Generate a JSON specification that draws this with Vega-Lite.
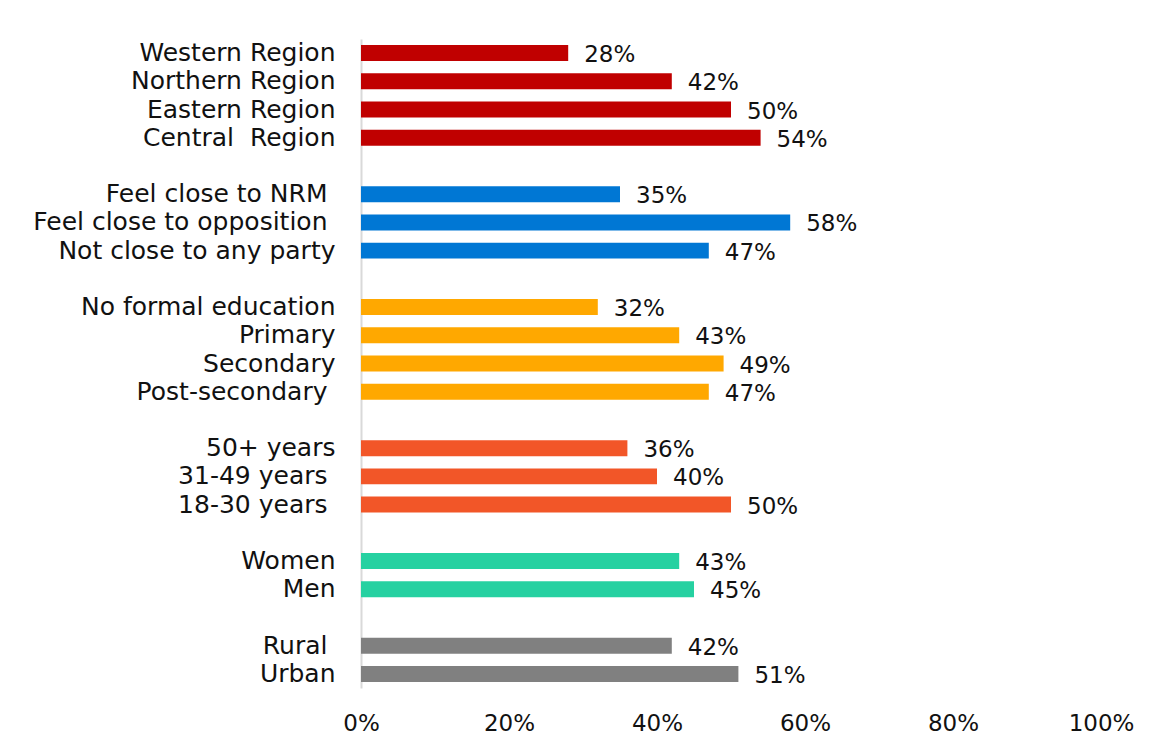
{
  "$schema": "https://vega.github.io/schema/vega-lite/v6.json",
  "autosize": "none",
  "padding": {"left": 361, "top": 39, "right": 53, "bottom": 59},
  "width": 740,
  "height": 649,
  "background": "white",
  "config": {"view": {"stroke": null}, "font": "DejaVu Sans"},
  "data": {"values": [
    {"label": "Western Region", "group": "Region", "value": 0.28},
    {"label": "Northern Region", "group": "Region", "value": 0.42},
    {"label": "Eastern Region", "group": "Region", "value": 0.50},
    {"label": "Central\u00a0 Region", "group": "Region", "value": 0.54},
    {"label": "Feel close to NRM", "group": "Party", "value": 0.35},
    {"label": "Feel close to opposition", "group": "Party", "value": 0.58},
    {"label": "Not close to any party", "group": "Party", "value": 0.47},
    {"label": "No formal education", "group": "Education", "value": 0.32},
    {"label": "Primary", "group": "Education", "value": 0.43},
    {"label": "Secondary", "group": "Education", "value": 0.49},
    {"label": "Post-secondary", "group": "Education", "value": 0.47},
    {"label": "50+ years", "group": "Age", "value": 0.36},
    {"label": "31-49 years", "group": "Age", "value": 0.40},
    {"label": "18-30 years", "group": "Age", "value": 0.50},
    {"label": "Women", "group": "Gender", "value": 0.43},
    {"label": "Men", "group": "Gender", "value": 0.45},
    {"label": "Rural", "group": "Location", "value": 0.42},
    {"label": "Urban", "group": "Location", "value": 0.51}
  ]},
  "encoding": {
    "y": {
      "field": "label",
      "type": "nominal",
      "scale": {
        "domain": ["Western Region", "Northern Region", "Eastern Region", "Central\u00a0 Region", " ",
                   "Feel close to NRM", "Feel close to opposition", "Not close to any party", "  ",
                   "No formal education", "Primary", "Secondary", "Post-secondary", "   ",
                   "50+ years", "31-49 years", "18-30 years", "    ",
                   "Women", "Men", "     ",
                   "Rural", "Urban"],
        "paddingInner": 0.434,
        "paddingOuter": 0.217
      },
      "axis": {
        "title": null,
        "ticks": false,
        "domainColor": "#D9D9D9",
        "domainWidth": 2,
        "labelFont": "DejaVu Sans",
        "labelFontSize": 25,
        "labelColor": "#111111",
        "labelPadding": {
          "condition": {
            "test": "indexof(['Feel close to NRM','Feel close to opposition','Post-secondary','31-49 years','18-30 years','Rural'], datum.value) >= 0",
            "value": 34
          },
          "value": 26
        },
        "labelLimit": 500
      }
    },
    "x": {
      "field": "value",
      "type": "quantitative",
      "scale": {"domain": [0, 1], "nice": false},
      "axis": {
        "title": null,
        "format": ".0%",
        "values": [0, 0.2, 0.4, 0.6, 0.8, 1],
        "grid": false,
        "domain": false,
        "ticks": false,
        "labelFont": "DejaVu Sans",
        "labelFontSize": 23,
        "labelColor": "#111111",
        "labelPadding": 24,
        "labelFlush": false,
        "labelOverlap": false
      }
    }
  },
  "layer": [
    {
      "mark": {"type": "bar"},
      "encoding": {
        "color": {
          "field": "group",
          "type": "nominal",
          "legend": null,
          "scale": {
            "domain": ["Region", "Party", "Education", "Age", "Gender", "Location"],
            "range": ["#C00000", "#0077D4", "#FFA800", "#F25628", "#26D1A1", "#808080"]
          }
        }
      }
    },
    {
      "mark": {"type": "text", "align": "left", "baseline": "middle", "dx": 16, "dy": 2, "font": "DejaVu Sans", "fontSize": 23, "color": "#111111"},
      "encoding": {
        "text": {"field": "value", "type": "quantitative", "format": ".0%"}
      }
    }
  ]
}
